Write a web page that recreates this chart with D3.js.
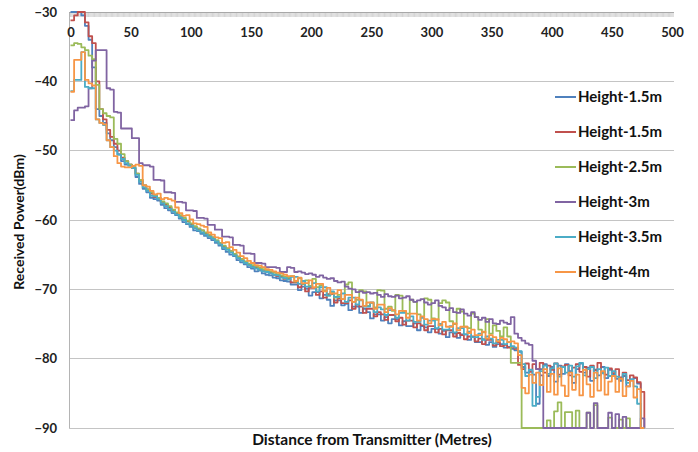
<!DOCTYPE html>
<html>
<head>
<meta charset="utf-8">
<script src="https://cdn.jsdelivr.net/npm/d3@7/dist/d3.min.js"></script>
<style>
  html, body { margin: 0; padding: 0; background: #fff; }
  svg { display: block; font-family: Lato, "Open Sans", sans-serif; }
</style>
</head>
<body>
<svg id="chart" width="698" height="452"></svg>
<script>
// Measurement points along the route, every 3 m
const distance = d3.range(0, 480, 3);

// Received power (dBm) at each measurement point, one array per antenna height
const height15a = [
  -30, -30, -30, -30.5, -32, -34, -38, -44, -45, -46,
  -47.5, -48.5, -49.5, -50.5, -51.5, -52, -52, -52.5, -53.8, -54.8,
  -55.5, -56, -56.8, -57, -57.2, -57.8, -58.3, -58.6, -59, -59.3,
  -59.8, -60.3, -60.6, -61, -61.5, -61.6, -62, -62.3, -62.6, -62.9,
  -63.3, -63.7, -64.2, -64.6, -65, -65.2, -65.8, -66.1, -66.4, -66.8,
  -67, -67.4, -67.3, -67.7, -67.9, -68, -68.3, -68.4, -68.7, -68.8,
  -68.9, -69.3, -69.3, -70.1, -69.6, -69.9, -70.9, -70.4, -70.4, -71.3,
  -70.8, -71.5, -72.4, -71.6, -71.6, -72.3, -72.1, -73, -72.5, -72.5,
  -73.4, -72.8, -73.3, -74.2, -73.6, -73.6, -74.5, -74, -74.9, -74.3,
  -74.3, -75.2, -74.6, -75.3, -75.3, -74.9, -75.9, -75.3, -75.5, -76.2,
  -75.7, -75.7, -76.4, -76, -76.9, -76.2, -76.4, -77, -76.5, -76.5,
  -77.3, -76.9, -77.6, -77.6, -77.2, -78, -77.6, -78.3, -77.9, -77.9,
  -78.4, -78.3, -78.6, -78.8, -79, -81.2, -82, -81.8, -82.3, -86.5,
  -81.5, -80.8, -82.5, -81.2, -83.3, -81, -82.2, -80.8, -81.8, -83.5,
  -81.5, -80.7, -82, -81.3, -83.2, -81.6, -82.4, -81.2, -82.8, -81.6,
  -82.3, -82.9, -83.2, -82.5, -84, -83, -82.8, -83.6, -90, -90
];
const height15b = [
  -31.2, -30.5, -30, -30, -31.5, -33.5, -34.5, -40, -44, -45.5,
  -47, -48, -49, -50, -51, -51.5, -52, -52.5, -53.3, -54.2,
  -55, -55.6, -56.2, -56.7, -56.8, -57.4, -57.8, -58.2, -58.7, -59,
  -59.4, -59.9, -60.2, -60.6, -61, -61.3, -61.5, -61.9, -62.2, -62.5,
  -63, -63.3, -63.8, -64.1, -64.5, -65, -65.3, -65.8, -66, -66.4,
  -66.7, -66.9, -67.1, -67.2, -67.5, -67.6, -67.9, -68.1, -68.2, -68.5,
  -68.5, -69, -69, -69.7, -69.2, -70.3, -69.8, -69.8, -70.8, -70.3,
  -71.2, -70.7, -70.7, -71.9, -71.3, -72, -72, -71.6, -72.8, -72.2,
  -72.5, -73.4, -72.8, -72.8, -73.9, -73.3, -73.6, -74.4, -73.7, -73.7,
  -74.6, -74.1, -75.1, -74.5, -74.5, -75.5, -74.9, -75.2, -75.9, -75.3,
  -75.3, -76.2, -75.7, -76.5, -75.9, -75.9, -76.8, -76.3, -76.6, -77.2,
  -76.8, -76.8, -77.5, -77.1, -77.9, -77.3, -77.3, -78.1, -77.6, -78.2,
  -78, -78.4, -78.3, -78.6, -80.9, -81.5, -80.7, -81.9, -80.8, -81.5,
  -80.6, -82, -81, -81.6, -80.7, -82.3, -81.1, -80.9, -82.4, -81.3,
  -80.8, -81.9, -81.2, -82.6, -81, -81.7, -80.6, -81.9, -82.3, -81.4,
  -82.1, -81.5, -82.7, -82, -83.1, -82.4, -82.7, -83.4, -84.8, -90
];
const height25 = [
  -34.8, -34.5, -34.6, -35.1, -35.5, -36.3, -36.8, -40.5, -44, -44.6,
  -45, -45.2, -48.3, -49, -50.5, -51.5, -52, -52.3, -53.3, -54.2,
  -55, -55.6, -56, -56.4, -56.8, -57.3, -57.6, -58, -58.5, -58.9,
  -59.3, -59.7, -60.1, -60.5, -60.9, -61.2, -61.5, -61.8, -62.1, -62.5,
  -62.9, -63.3, -63.7, -64.1, -64.5, -64.9, -65.3, -65.6, -66, -66.3,
  -66.5, -66.7, -66.9, -67.1, -67.3, -67.4, -67.6, -67.8, -68, -68.2,
  -68.3, -68.1, -68.9, -68.4, -69.2, -68.7, -69.5, -68.5, -69.7, -69.4,
  -70.2, -70.9, -70.4, -71.2, -70.8, -71.4, -69.3, -69, -71.8, -71.5,
  -70.1, -70.3, -72.4, -72, -72.6, -70.1, -70.2, -72.8, -72.5, -73.1,
  -70.8, -70.9, -73.2, -73.5, -71.5, -71.8, -73.6, -74, -71.3, -71.5,
  -74.2, -74.4, -72, -71.6, -71.9, -74.6, -75, -72.8, -73.2, -75.4,
  -75.6, -73.5, -74, -75.8, -76.2, -74.3, -76.4, -75.2, -76, -76.8,
  -75.5, -76.8, -80.6, -80.6, -80.6, -90, -90, -90, -90, -90,
  -90, -90, -88.9, -90, -87.6, -86.3, -90, -87.7, -87.7, -90,
  -87.5, -90, -90, -87.8, -90, -86.7, -90, -90, -90, -88.5,
  -90, -90, -88.8, -90, -88.6, -90, -90, -90, -90, -90
];
const height3 = [
  -45.6, -44.2, -43.8, -43.8, -43.6, -41, -37, -35.5, -35.5, -35.5,
  -41, -41.2, -44.4, -44.5, -46.8, -46.8, -46.8, -48.2, -48.2, -51.8,
  -52.1, -52.1, -52.3, -54.2, -54.2, -54.3, -56, -56, -56.1, -57.4,
  -57.4, -57.5, -58.6, -58.6, -58.7, -59.7, -59.7, -59.8, -60.7, -60.7,
  -61.4, -61.4, -62.4, -62.4, -62.5, -63.6, -63.6, -63.7, -64.8, -64.8,
  -64.9, -66.2, -66.2, -66.3, -66.8, -66.8, -66.8, -66.9, -67.5, -67.5,
  -66.8, -66.9, -67.5, -67.4, -67.6, -67.8, -67.7, -67.9, -68.2, -68,
  -68.3, -68.5, -68.4, -68.8, -69, -68.9, -69.6, -69.9, -70, -70.4,
  -70.3, -70.5, -70.4, -70.6, -70.5, -70.8, -71.1, -70.7, -71, -71.1,
  -70.9, -71.3, -71.2, -71, -71.5, -71.8, -71.6, -71.4, -71.9, -72.2,
  -72, -71.6, -72.4, -72.6, -73, -72.7, -73.3, -73.4, -72.9, -73.5,
  -73.8, -73.3, -74, -74.4, -74.1, -74.7, -74.3, -74.9, -75, -74.5,
  -74.8, -75, -74, -76.4, -77, -77.4, -77.8, -78, -80.3, -81.5,
  -82.4, -90, -90, -90, -90, -90, -90, -90, -90, -90,
  -90, -90, -90, -87.8, -90, -86.4, -90, -90, -90, -87.8,
  -90, -88, -90, -88.4, -90, -90, -90, -90, -88.6, -90
];
const height35 = [
  -41.4, -39.8, -39.8, -35.8, -40.8, -41, -41, -45.5, -46, -46.3,
  -48.5, -49.5, -50, -50.6, -51.2, -51.8, -52.2, -52.5, -53.5, -54.5,
  -55.3, -55.8, -56.5, -56.6, -57, -57.6, -58, -58.4, -58.8, -59.2,
  -59.6, -60, -60.5, -60.8, -61.2, -61.5, -61.8, -62.1, -62.4, -62.7,
  -63.1, -63.5, -64, -64.3, -64.7, -65.1, -65.5, -65.9, -66.2, -66.5,
  -66.8, -67, -67.2, -67.4, -67.5, -67.7, -67.9, -68, -68.3, -68.4,
  -68.6, -68.2, -68.2, -69.2, -68.8, -69.6, -69.6, -69.1, -70.3, -69.7,
  -69.7, -70.9, -70.3, -71.1, -71.1, -70.6, -71.8, -71.2, -71.2, -72.2,
  -71.6, -72.5, -72.5, -71.9, -73.3, -72.6, -72.9, -73.7, -73, -73,
  -74.1, -73.4, -73.4, -74.5, -73.9, -74.7, -74.7, -74.1, -75.1, -74.5,
  -74.5, -75.6, -75, -75.8, -75.8, -75.3, -76.2, -75.6, -75.6, -76.5,
  -76.1, -76.9, -76.9, -76.4, -77.3, -76.8, -77.1, -77.8, -77.3, -77.3,
  -77.9, -77.6, -78.2, -78.4, -78.9, -80.8, -82.5, -81.6, -86.8, -85.5,
  -81.8, -81, -82.2, -81.4, -80.7, -82.6, -81.2, -82, -81, -82.6,
  -81.1, -80.6, -82.4, -81.5, -81.2, -82.8, -81.5, -82.1, -81.3, -82.5,
  -81.8, -82.6, -83, -82.2, -83.5, -83, -84, -86.5, -90, -90
];
const height4 = [
  -41.5, -36.9, -36.9, -35.8, -39.8, -40.3, -40.6, -45.5, -46, -46.2,
  -48.5, -49.5, -50.8, -51.8, -52.3, -52.4, -52.4, -52.2, -52, -52.2,
  -55, -55.2, -55.8, -56.3, -56.2, -57, -56.8, -57, -57.2, -58.2,
  -59, -59.4, -59.3, -59.9, -60.5, -60.6, -60.8, -61, -61.8, -62.1,
  -62.5, -62.6, -63.3, -63.2, -63.9, -64.3, -64.7, -65.2, -65.5, -65.9,
  -66.2, -66.5, -66.6, -66.8, -67.1, -67.2, -67.4, -67.6, -67.7, -67.9,
  -68.1, -68.1, -68.8, -68.3, -69.1, -69.1, -68.7, -69.7, -69.2, -69.2,
  -70.3, -69.8, -70.6, -70.6, -70.1, -71.4, -70.8, -70.8, -71.8, -71.2,
  -71.5, -72.4, -71.9, -71.9, -72.8, -72.2, -72.2, -73.3, -72.7, -73,
  -73.6, -73.1, -73.1, -74.1, -73.5, -73.5, -74.5, -73.9, -74.3, -74.9,
  -74.3, -74.3, -75.2, -74.7, -75.4, -75.4, -74.9, -75.9, -75.4, -75.4,
  -76.3, -75.8, -76.6, -76.6, -76.1, -77.1, -76.6, -76.9, -77.5, -77,
  -77.2, -77.6, -77.5, -77.8, -79.5, -84.2, -85, -82.3, -83.5, -82,
  -83.8, -81.5, -84.8, -82.2, -85.2, -81.4, -83.9, -85.4, -82, -84.5,
  -82.3, -85.3, -81.6, -83.7, -85.5, -82, -84.6, -81.8, -85.2, -83.3,
  -82.5, -84.8, -82.9, -85.4, -84, -83.2, -85.6, -84.4, -90, -90
];

const seriesNames = ["Height-1.5m", "Height-1.5m", "Height-2.5m", "Height-3m", "Height-3.5m", "Height-4m"];
const seriesValues = [height15a, height15b, height25, height3, height35, height4];
const seriesColors = ["#4F81BD", "#C0504D", "#9BBB59", "#8064A2", "#4BACC6", "#F79646"];

const xTickLabels = [0, 50, 100, 150, 200, 250, 300, 350, 400, 450, 500];
const yTickLabels = [-30, -40, -50, -60, -70, -80, -90];

const svg = d3.select("#chart");

const plot = { left: 69, right: 674, top: 12, bottom: 428 };
const x = d3.scaleLinear().domain([0, 500]).range([70.5, 672]);
const y = d3.scaleLinear().domain([-90, -30]).range([plot.bottom, plot.top]);

// Horizontal gridlines
svg.append("g")
  .selectAll("line")
  .data(yTickLabels.filter(v => v !== -30))
  .join("line")
  .attr("x1", plot.left).attr("x2", plot.right)
  .attr("y1", d => y(d)).attr("y2", d => y(d))
  .attr("stroke", "#c4c4c4").attr("stroke-width", 1)
  .attr("shape-rendering", "crispEdges");

// Vertical axis line
svg.append("line")
  .attr("x1", plot.left).attr("x2", plot.left)
  .attr("y1", plot.top).attr("y2", plot.bottom)
  .attr("stroke", "#b4b4b4").attr("shape-rendering", "crispEdges");

// Y axis labels
const yAxis = d3.axisLeft(y).tickValues(yTickLabels).tickSize(0).tickPadding(12);
const gy = svg.append("g").attr("transform", `translate(${plot.left},0)`).call(yAxis);
gy.select(".domain").remove();
gy.selectAll("text")
  .attr("font-family", "Lato, sans-serif")
  .attr("font-weight", "bold").attr("font-size", 13).attr("fill", "#222");

// Distance axis along the top: one tick per metre, labels every 50 m
svg.append("g")
  .selectAll("line")
  .data(d3.range(0, 502, 1))
  .join("line")
  .attr("x1", d => x(d)).attr("x2", d => x(d))
  .attr("y1", plot.top).attr("y2", plot.top + 5)
  .attr("stroke", "#c2c2c2").attr("stroke-width", 0.7);
svg.append("line")
  .attr("x1", plot.left).attr("x2", plot.right)
  .attr("y1", plot.top).attr("y2", plot.top)
  .attr("stroke", "#a8a8a8").attr("shape-rendering", "crispEdges");

const xAxis = d3.axisBottom(x).tickValues(xTickLabels).tickSize(0).tickPadding(16);
const gx = svg.append("g").attr("transform", `translate(0,${plot.top})`).call(xAxis);
gx.select(".domain").remove();
gx.selectAll("text")
  .attr("font-family", "Lato, sans-serif")
  .attr("font-weight", "bold").attr("font-size", 13).attr("fill", "#222");

// Clip series to the plotting area
svg.append("defs").append("clipPath").attr("id", "plotClip")
  .append("rect")
  .attr("x", plot.left).attr("y", plot.top - 1)
  .attr("width", plot.right - plot.left).attr("height", plot.bottom - plot.top + 2);

const line = d3.line()
  .x(d => x(d[0]))
  .y(d => y(d[1]))
  .curve(d3.curveStepAfter);

svg.append("g").attr("clip-path", "url(#plotClip)")
  .selectAll("path")
  .data(seriesValues.map(vals => vals.map((v, i) => [distance[i], v])))
  .join("path")
  .attr("d", line)
  .attr("fill", "none")
  .attr("stroke", (d, i) => seriesColors[i])
  .attr("stroke-width", 1.8)
  .attr("stroke-linejoin", "round");

// Legend
const legend = svg.append("g").attr("transform", "translate(555,97)");
const item = legend.selectAll("g")
  .data(seriesNames)
  .join("g")
  .attr("transform", (d, i) => `translate(0,${i * 35})`);
item.append("line")
  .attr("x1", 0).attr("x2", 21).attr("y1", 0).attr("y2", 0)
  .attr("stroke", (d, i) => seriesColors[i]).attr("stroke-width", 2);
item.append("text")
  .attr("x", 23).attr("y", 0).attr("dy", "0.35em")
  .attr("font-family", "Lato, sans-serif")
  .attr("font-weight", "bold").attr("font-size", 15).attr("fill", "#111")
  .text(d => d);

// Axis titles
svg.append("text")
  .attr("x", 372).attr("y", 445)
  .attr("text-anchor", "middle")
  .attr("font-family", "Lato, sans-serif")
  .attr("font-weight", "bold").attr("font-size", 15.5).attr("fill", "#111")
  .text("Distance from Transmitter (Metres)");

svg.append("text")
  .attr("transform", "translate(24,222) rotate(-90)")
  .attr("text-anchor", "middle")
  .attr("font-family", "Lato, sans-serif")
  .attr("font-weight", "bold").attr("font-size", 14).attr("fill", "#111")
  .text("Received Power(dBm)");
</script>
</body>
</html>
